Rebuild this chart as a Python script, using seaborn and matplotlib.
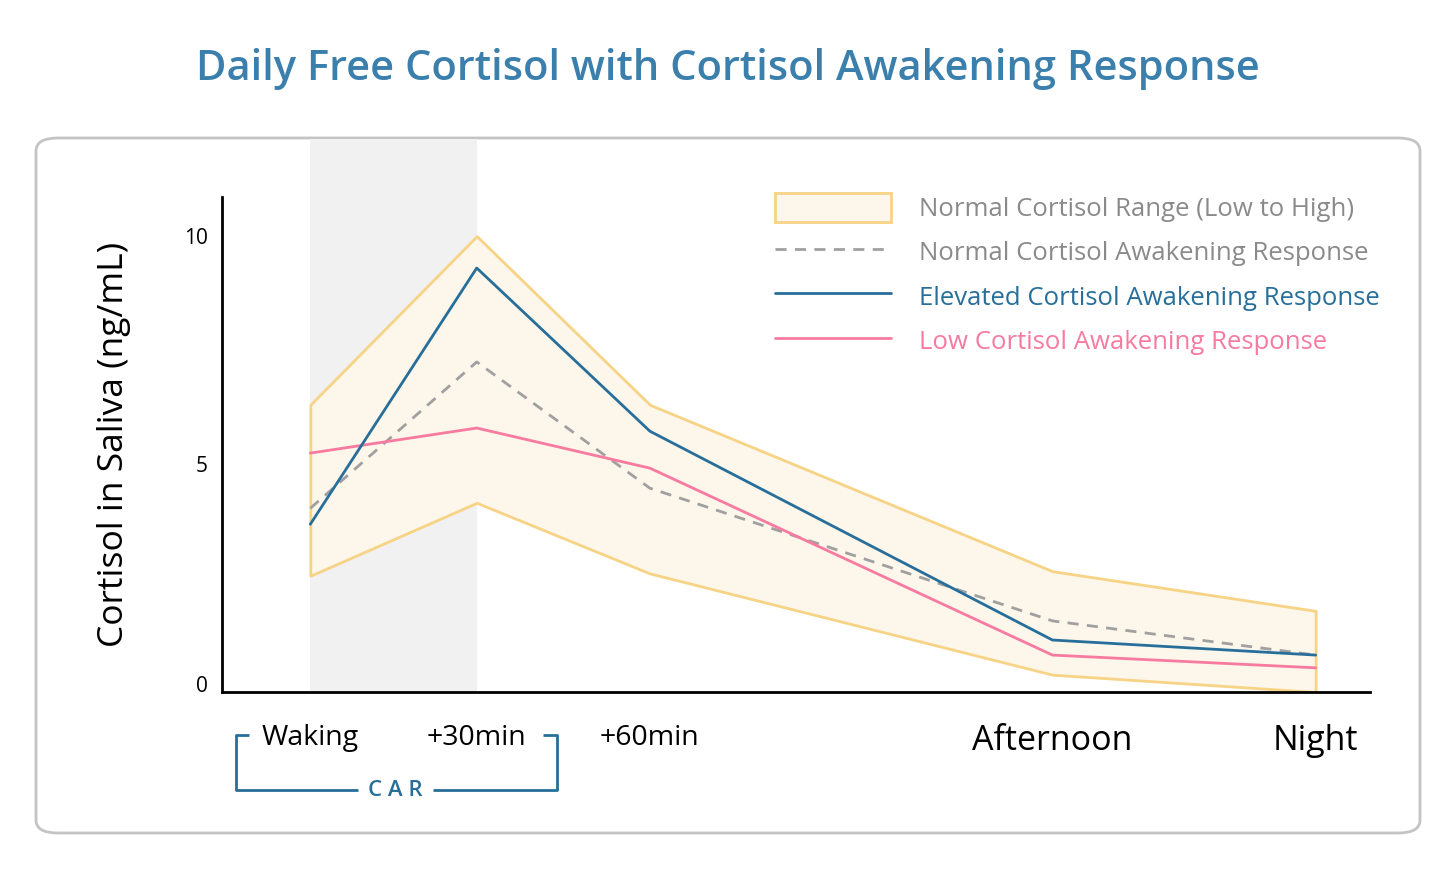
import numpy as np
import matplotlib.pyplot as plt
import pandas as pd
import seaborn as sns
from matplotlib.patches import FancyBboxPatch, Patch
from matplotlib.lines import Line2D
import matplotlib.transforms as mtransforms

# time points and their position on the x axis
times = ['Waking', '+30min', '+60min', 'Afternoon', 'Night']
x_pos = [0, 0.98, 2.0, 4.37, 5.92]

# normal range (low to high)
range_low = [2.55, 4.15, 2.6, 0.38, 0.0]
range_high = [6.3, 10.0, 6.3, 2.65, 1.78]

# awakening response curves
normal_car = [4.03, 7.24, 4.47, 1.56, 0.81]
elevated_car = [3.68, 9.3, 5.72, 1.14, 0.81]
low_car = [5.24, 5.79, 4.91, 0.81, 0.53]

# colours
title_col = '#3b80ad'
blue = '#276f9a'
pink = '#f77ba0'
grey = '#a0a0a0'
band_fill = '#fdf6ea'
band_edge = '#f7d386'

sns.set_style('white')
plt.rcParams['font.family'] = ['Open Sans', 'DejaVu Sans']

fig = plt.figure(figsize=(14.56, 8.72), dpi=100)

# rounded frame around the plot
frame = FancyBboxPatch((36 / 1456, 1 - 833 / 872), (1420 - 36) / 1456, (833 - 138) / 872,
                       boxstyle='round,pad=0,rounding_size=0.015', transform=fig.transFigure,
                       facecolor='none', edgecolor='#c4c4c4', linewidth=2, zorder=-10)
fig.patches.append(frame)

fig.text(0.5, 1 - 69 / 872, 'Daily Free Cortisol with Cortisol Awakening Response',
         ha='center', va='center', fontsize=30, color=title_col, fontweight='semibold')

ax = fig.add_axes([222 / 1456, 1 - 692 / 872, (1370 - 222) / 1456, (692 - 139) / 872])
ax.patch.set_alpha(0)

# CAR window shading
ax.axvspan(x_pos[0], x_pos[1], color='#f1f1f1', zorder=0, lw=0)

# normal range band
ax.fill_between(x_pos, range_low, range_high, facecolor=band_fill, edgecolor=band_edge,
                linewidth=2, zorder=1)

df = pd.DataFrame({'x': x_pos * 3,
                   'y': normal_car + elevated_car + low_car,
                   'series': ['normal'] * 5 + ['elevated'] * 5 + ['low'] * 5})

sns.lineplot(data=df[df.series == 'normal'], x='x', y='y', ax=ax, color=grey,
             linestyle=(0, (4, 3)), linewidth=2, zorder=2)
sns.lineplot(data=df[df.series == 'low'], x='x', y='y', ax=ax, color=pink, linewidth=2, zorder=3)
sns.lineplot(data=df[df.series == 'elevated'], x='x', y='y', ax=ax, color=blue, linewidth=2, zorder=4)

ax.set_xlim(-0.52, 6.24)
ax.set_ylim(0, 12.13)
ax.set_xlabel('')
ax.set_ylabel('Cortisol in Saliva (ng/mL)', fontsize=25.5, color='black', labelpad=38,
              y=0.447)

sns.despine(ax=ax)
ax.spines['left'].set_bounds(0, 10.85)
ax.spines['left'].set_linewidth(2)
ax.spines['bottom'].set_linewidth(2)
ax.spines['left'].set_color('black')
ax.spines['bottom'].set_color('black')

ax.set_yticks([0, 5, 10])
ax.set_yticklabels(['0', '5', '10'])
ax.tick_params(axis='y', length=0, pad=10, labelsize=15, labelcolor='black')
ax.yaxis.get_majorticklabels()[0].set_va('baseline')

ax.set_xticks(x_pos)
ax.set_xticklabels(times)
ax.tick_params(axis='x', length=0, pad=23, labelcolor='black')
for i, lab in enumerate(ax.get_xticklabels()):
    lab.set_fontsize(20.5 if i < 3 else 24.5)

# CAR bracket under the first two labels
trans = mtransforms.blended_transform_factory(ax.transData, fig.transFigure)
y_top = 1 - 735 / 872
y_bot = 1 - 790 / 872
xl, xr = -0.44, 1.45
tick = 0.08
ax.plot([xl + tick, xl, xl, 0.28], [y_top, y_top, y_bot, y_bot], color=blue, lw=2,
        transform=trans, clip_on=False, solid_capstyle='butt')
ax.plot([0.72, xr, xr, xr - tick], [y_bot, y_bot, y_top, y_top], color=blue, lw=2,
        transform=trans, clip_on=False, solid_capstyle='butt')
ax.text(0.5, y_bot, 'C A R', transform=trans, ha='center', va='center', fontsize=16,
        color=blue, fontweight='semibold')

# legend
handles = [Patch(facecolor=band_fill, edgecolor=band_edge, linewidth=2),
           Line2D([], [], color=grey, linestyle=(0, (4, 3)), linewidth=2),
           Line2D([], [], color=blue, linewidth=2),
           Line2D([], [], color=pink, linewidth=2)]
labels = ['Normal Cortisol Range (Low to High)', 'Normal Cortisol Awakening Response',
          'Elevated Cortisol Awakening Response', 'Low Cortisol Awakening Response']
leg = ax.legend(handles, labels, loc='upper left', bbox_to_anchor=(775 / 1456, 1 - 193 / 872),
                bbox_transform=fig.transFigure, frameon=False, fontsize=18.5,
                handlelength=4.5, handleheight=1.35, handletextpad=1.1, labelspacing=0.6,
                borderpad=0, borderaxespad=0)
for txt, col in zip(leg.get_texts(), ['#8a8a8a', '#8a8a8a', blue, pink]):
    txt.set_color(col)

fig.savefig('out.png', dpi=100)
